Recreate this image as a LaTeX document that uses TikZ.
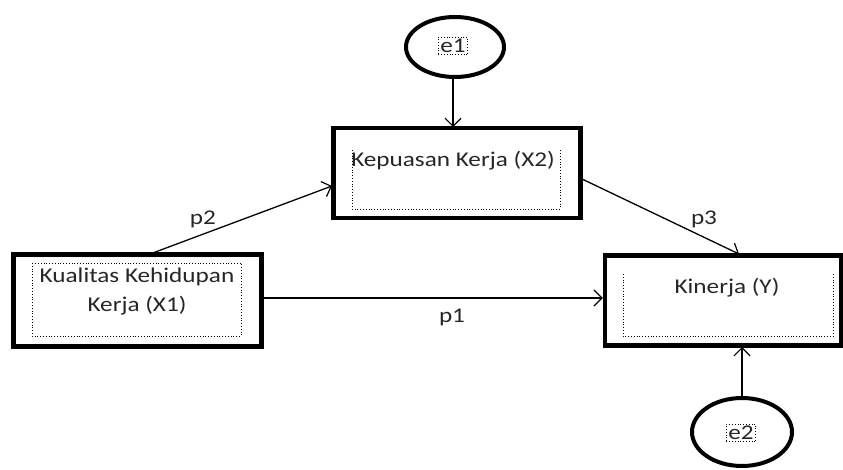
\documentclass[tikz,border=0pt]{standalone}
\usepackage{fontspec}
\setmainfont{Carlito}[FakeStretch=1.2]
\usetikzlibrary{arrows.meta,shapes.geometric}
\begin{document}
\begin{tikzpicture}[x=1pt,y=-1pt,
  box/.style={draw,line width=4.5pt,inner sep=0pt},
  inner/.style={draw,dotted,line width=0.8pt},
  err/.style={draw,ellipse,line width=4pt,inner sep=0pt},
  lbl/.style={font=\fontsize{21}{25}\selectfont,text=black!85},
  conn/.style={line width=1.3pt,-{Straight Barb[length=8pt,width=16pt,line width=1.2pt]}}]
\useasboundingbox (0,0) rectangle (843,470);
% boxes
\node[box,minimum width=247pt,minimum height=90pt] (x2) at (457,173) {};
\node[box,minimum width=248pt,minimum height=92pt] (x1) at (137.5,300.5) {};
\node[box,minimum width=236pt,minimum height=90pt] (y) at (723,300.5) {};
% inner dotted frames
\draw[inner] (352,150) -- (352,209) -- (560,209) -- (560,150);
\draw[inner] (32,263) rectangle (241,336);
\draw[inner] (623,274) -- (623,336) -- (833,336) -- (833,274);
% texts
\node[lbl] (tx2) at (453,161) {Kepuasan Kerja (X2)};
\node[lbl,align=center,font=\fontsize{21}{29}\selectfont] (tx1) at (137,292) {Kualitas Kehidupan\\Kerja (X1)};
\node[lbl] (ty) at (727,288) {Kinerja (Y)};
% error terms
\node[err,minimum width=98pt,minimum height=60pt] (e1) at (455,47) {};
\node[lbl,draw,dotted,line width=0.8pt,inner sep=2pt] (te1) at (453,46) {e1};
\node[err,minimum width=100pt,minimum height=68pt] (e2) at (742,432) {};
\node[lbl,draw,dotted,line width=0.8pt,inner sep=2pt] (te2) at (741,433) {e2};
% connectors
\coordinate (p2s) at (150,254);
\coordinate (p2e) at (332,186);
\coordinate (p3s) at (582,179);
\coordinate (p3e) at (739,254);
\draw[conn] (e1.south -| 453,0) -- (453,127);
\draw[conn] (x1.east |- 0,298) -- (y.west |- 0,298);
\draw[conn] (p2s) -- (p2e);
\draw[conn] (p3s) -- (p3e);
\draw[conn] (e2.north -| 742,0) -- (742,347);
% path labels
\node[lbl] (lp2) at (203,219) {p2};
\node[lbl] (lp1) at (452,317) {p1};
\node[lbl] (lp3) at (704,219) {p3};
\end{tikzpicture}
\end{document}
